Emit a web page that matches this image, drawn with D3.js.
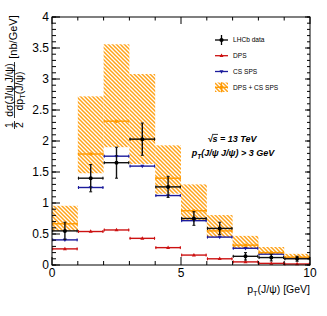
<!DOCTYPE html>
<html><head><meta charset="utf-8">
<script src="https://cdn.jsdelivr.net/npm/d3@7"></script>
<style>
body{margin:0;background:#fff;}
svg{display:block;font-family:"Liberation Sans",Arial,sans-serif;}
</style></head><body>
<svg id="c" width="327" height="316"></svg>
<script>
const binEdges = [0,1,2,3,4,5,6,7,8,9,10];
const dataVal  = [0.55,1.40,1.65,2.03,1.26,0.75,0.59,0.14,0.12,0.10];
const dataErr  = [0.14,0.22,0.25,0.26,0.17,0.11,0.10,0.06,0.055,0.04];
const dpsVal   = [0.26,0.54,0.565,0.43,0.28,0.16,0.10,0.05,0.026,0.016];
const spsVal   = [0.405,1.25,1.755,1.595,1.12,0.715,0.45,0.27,0.175,0.11];
const sumVal   = [0.665,1.79,2.32,2.025,1.40,0.875,0.55,0.32,0.20,0.126];
const sumLow   = [0.55,1.48,1.90,1.63,1.15,0.725,0.45,0.27,0.175,0.11];
const sumHigh  = [0.955,2.72,3.56,3.08,1.93,1.30,0.805,0.47,0.29,0.18];
const xMajor = [0,5,10];
const xMinor = [1,2,3,4,6,7,8,9];
const yMajor = [0,0.5,1,1.5,2,2.5,3,3.5,4];
const yMinor = d3.range(0,4.0001,0.1);
const yLabels = ["0","0.5","1","1.5","2","2.5","3","3.5","4"];

const L=52,R=310,T=17,B=265;
const svg=d3.select("#c");
const x=d3.scaleLinear().domain([0,10]).range([L,R]);
const y=d3.scaleLinear().domain([0,4]).range([B,T]);

const defs=svg.append("defs");
const pat=defs.append("pattern").attr("id","hatch").attr("patternUnits","userSpaceOnUse")
  .attr("width",4).attr("height",4);
pat.append("path").attr("d","M-1,-1 L5,5 M-1,3 L1,5 M3,-1 L5,1")
  .attr("stroke","#ffa31a").attr("stroke-width",1.5);

const bins=d3.range(10).map(i=>({i,x0:binEdges[i],x1:binEdges[i+1],xc:(binEdges[i]+binEdges[i+1])/2}));

// band
svg.append("g").selectAll("rect").data(bins).join("rect")
  .attr("x",d=>x(d.x0)).attr("width",d=>x(d.x1)-x(d.x0))
  .attr("y",d=>y(sumHigh[d.i])).attr("height",d=>y(sumLow[d.i])-y(sumHigh[d.i]))
  .attr("fill","url(#hatch)");

function hseries(vals,color,marker){
  const g=svg.append("g");
  g.selectAll("line.h").data(bins).join("line")
    .attr("x1",d=>x(d.x0)).attr("x2",d=>x(d.x1))
    .attr("y1",d=>y(vals[d.i])).attr("y2",d=>y(vals[d.i]))
    .attr("stroke",color).attr("stroke-width",1.4);
  g.selectAll("path.cap").data(bins).join("path")
    .attr("d",d=>`M${x(d.x0)+0.7},${y(vals[d.i])-1.5}v3M${x(d.x1)-0.7},${y(vals[d.i])-1.5}v3`)
    .attr("stroke",color).attr("stroke-width",1).attr("fill","none");
  g.selectAll("path.m").data(bins).join("path")
    .attr("transform",d=>`translate(${x(d.xc)},${y(vals[d.i])})`)
    .attr("d",marker).attr("fill",color);
}
const triUp="M0,-2.2L2,1.3L-2,1.3Z", triDn="M0,2.2L2,-1.3L-2,-1.3Z";
const circ=d3.symbol(d3.symbolCircle,10)();
hseries(dpsVal,"#cc1111",triUp);
hseries(spsVal,"#1c1c9c",triDn);
hseries(sumVal,"#ff9a00",circ);

// data
const gd=svg.append("g");
bins.forEach(d=>{
  const v=dataVal[d.i],e=dataErr[d.i];
  gd.append("line").attr("x1",x(d.x0)).attr("x2",x(d.x1)).attr("y1",y(v)).attr("y2",y(v))
    .attr("stroke","#111").attr("stroke-width",1.4);
  gd.append("path").attr("d",`M${x(d.x0)+0.7},${y(v)-1.5}v3M${x(d.x1)-0.7},${y(v)-1.5}v3`)
    .attr("stroke","#111").attr("stroke-width",1);
  gd.append("line").attr("x1",x(d.xc)).attr("x2",x(d.xc)).attr("y1",y(v+e)).attr("y2",y(v-e))
    .attr("stroke","#111").attr("stroke-width",1.4);
  gd.append("path").attr("d",`M${x(d.xc)-1.5},${y(v+e)}h3M${x(d.xc)-1.5},${y(v-e)}h3`)
    .attr("stroke","#111").attr("stroke-width",1);
  gd.append("circle").attr("cx",x(d.xc)).attr("cy",y(v)).attr("r",2).attr("fill","#000");
});

// axes
const ax=svg.append("g").attr("stroke","#000").attr("stroke-width",1).attr("fill","none");
ax.append("rect").attr("x",L).attr("y",T).attr("width",R-L).attr("height",B-T);
yMinor.forEach(v=>{
  ax.append("line").attr("x1",L).attr("x2",L+4).attr("y1",y(v)).attr("y2",y(v));
  ax.append("line").attr("x1",R).attr("x2",R-3).attr("y1",y(v)).attr("y2",y(v));
});
yMajor.forEach(v=>{
  ax.append("line").attr("x1",L).attr("x2",L+8).attr("y1",y(v)).attr("y2",y(v));
  ax.append("line").attr("x1",R).attr("x2",R-5).attr("y1",y(v)).attr("y2",y(v));
});
xMinor.forEach(v=>{
  ax.append("line").attr("x1",x(v)).attr("x2",x(v)).attr("y1",B).attr("y2",B-4);
  ax.append("line").attr("x1",x(v)).attr("x2",x(v)).attr("y1",T).attr("y2",T+3.5);
});
xMajor.forEach(v=>{
  ax.append("line").attr("x1",x(v)).attr("x2",x(v)).attr("y1",B).attr("y2",B-8);
  ax.append("line").attr("x1",x(v)).attr("x2",x(v)).attr("y1",T).attr("y2",T+7);
});
svg.append("g").selectAll("text").data(yMajor).join("text")
  .attr("x",L-3).attr("y",d=>y(d)+4.2).attr("text-anchor","end").attr("font-size",12)
  .text((d,i)=>yLabels[i]);
svg.append("g").selectAll("text").data(xMajor).join("text")
  .attr("x",d=>x(d)).attr("y",B+12).attr("text-anchor","middle").attr("font-size",12)
  .text(d=>d);

// x title
const xt=svg.append("text").attr("x",R).attr("y",293).attr("text-anchor","end").attr("font-size",10.5);
xt.append("tspan").text("p");
xt.append("tspan").attr("font-size",7.5).attr("dy",2.5).text("T");
xt.append("tspan").attr("dy",-2.5).text("(J/ψ) [GeV]");

// y title (rotated)
const yt=svg.append("g").attr("transform","rotate(-90)").attr("font-size",10.5);
yt.append("text").attr("x",-125).attr("y",12.5).attr("text-anchor","middle").text("1");
yt.append("text").attr("x",-125).attr("y",22.5).attr("text-anchor","middle").text("2");
yt.append("line").attr("x1",-129).attr("x2",-121).attr("y1",14.5).attr("y2",14.5).attr("stroke","#000").attr("stroke-width",0.8);
yt.append("text").attr("x",-90).attr("y",12.5).attr("text-anchor","middle").text("dσ(J/ψ J/ψ)");
yt.append("line").attr("x1",-118).attr("x2",-62).attr("y1",14.5).attr("y2",14.5).attr("stroke","#000").attr("stroke-width",0.8);
const den=yt.append("text").attr("x",-91).attr("y",22.5).attr("text-anchor","middle");
den.append("tspan").text("dp");
den.append("tspan").attr("font-size",7.5).attr("dy",2.5).text("T");
den.append("tspan").attr("dy",-2.5).text("(J/ψ)");
yt.append("text").attr("x",-37).attr("y",17).attr("text-anchor","middle").attr("font-size",11).text("[nb/GeV]");

// legend
const lg=svg.append("g").attr("font-size",6.6);
const lx0=215,lx1=228;
function legLine(yy,color,marker,label,errs){
  lg.append("line").attr("x1",lx0).attr("x2",lx1).attr("y1",yy).attr("y2",yy).attr("stroke",color).attr("stroke-width",1.3);
  if(errs) lg.append("line").attr("x1",(lx0+lx1)/2).attr("x2",(lx0+lx1)/2).attr("y1",yy-5).attr("y2",yy+5).attr("stroke",color).attr("stroke-width",1.3);
  lg.append("path").attr("transform",`translate(${(lx0+lx1)/2},${yy})`).attr("d",marker).attr("fill",color);
  lg.append("text").attr("x",233).attr("y",yy+2.4).text(label);
}
legLine(40,"#000",d3.symbol(d3.symbolCircle,14)(),"LHCb data",true);
legLine(55.7,"#cc1111",triUp,"DPS",false);
legLine(71.5,"#1c1c9c",triDn,"CS SPS",false);
lg.append("rect").attr("x",lx0).attr("y",82.5).attr("width",lx1-lx0).attr("height",9.5).attr("fill","url(#hatch)");
legLine(87.3,"#ff9a00",circ,"DPS + CS SPS",true);

// annotations
const an=svg.append("g").attr("font-weight","bold").attr("font-style","italic").attr("font-size",9).attr("text-anchor","middle");
const a1=an.append("text").attr("x",232).attr("y",142).text("√s = 13 TeV");
try{
  const n=a1.node();
  const s0=n.getStartPositionOfChar(1), s1=n.getEndPositionOfChar(1), r0=n.getStartPositionOfChar(0);
  an.append("line").attr("x1",r0.x+4.5).attr("x2",s1.x+0.5).attr("y1",142-7.6).attr("y2",142-7.6)
    .attr("stroke","#000").attr("stroke-width",0.8);
}catch(e){}
const a2=an.append("text").attr("x",233).attr("y",156);
a2.append("tspan").text("p");
a2.append("tspan").attr("font-size",6.5).attr("dy",2.5).text("T");
a2.append("tspan").attr("dy",-2.5).text("(J/ψ J/ψ) > 3 GeV");
</script></body></html>
